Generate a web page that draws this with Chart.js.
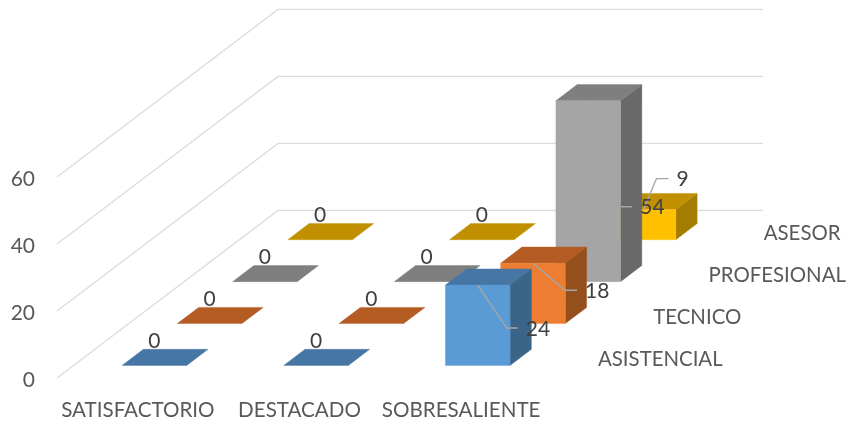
<!DOCTYPE html>
<html>
<head>
<meta charset="utf-8">
<style>html,body{margin:0;padding:0;background:#fff}canvas{display:block}</style>
<script src="https://cdn.jsdelivr.net/npm/chart.js@4"></script>
</head>
<body>
<canvas id="c" width="846" height="421" style="width:846px;height:421px"></canvas>
<script>
const categories = ["SATISFACTORIO", "DESTACADO", "SOBRESALIENTE"];
const depthLabels = ["ASISTENCIAL", "TECNICO", "PROFESIONAL", "ASESOR"];
const asistencial = [0, 0, 24];
const tecnico = [0, 0, 18];
const profesional = [0, 0, 54];
const asesor = [0, 0, 9];
const yTicks = [0, 20, 40, 60];

const frontColors = ["#5b9bd5", "#ed7d31", "#a5a5a5", "#ffc000"];
const topColors = ["#4676a3", "#b45c23", "#7f7f7f", "#c09000"];
const sideColors = ["#3b6489", "#954f1c", "#696969", "#a37c00"];

const FONT = "Lato, 'Open Sans', sans-serif";
const DEPTH_DX = 55.25, DEPTH_DY = -41.9;   // one series row of depth on screen
const BAR_FRAC = 0.4;                       // bar width as share of a cell
const DEPTH_FRAC = 0.385;                   // bar depth as share of a row
const GRID = "#dcdcdc", LEADER = "#a6a6a6", VALUE_TEXT = "#404040", AXIS_TEXT = "#595959";
// leader elbow and end, relative to the top-front centre of the bar, per series
const leaders = [
  [[29, 43], [40, 43]],
  [[32, 27], [44, 27]],
  [[32, 106], [44, 106]],
  [[13, -31], [25, -31]]
];

function poly(ctx, pts, fill) {
  ctx.beginPath();
  pts.forEach((p, i) => i ? ctx.lineTo(p[0], p[1]) : ctx.moveTo(p[0], p[1]));
  ctx.closePath();
  ctx.fillStyle = fill;
  ctx.fill();
  ctx.strokeStyle = fill;
  ctx.lineWidth = 0.4;
  ctx.stroke();
}

const scene3d = {
  id: "scene3d",
  beforeDraw(chart) {
    // the axis font sits a little high on its baseline: nudge the native tick labels down
    chart.scales.y.getLabelItems().forEach(it => { it.options.translation[1] += 2; });
  },
  beforeDatasetDraw() { return false; },
  afterDatasetsDraw(chart) {
    const ctx = chart.ctx, xs = chart.scales.x, ys = chart.scales.y;
    const rows = chart.data.datasets.length;
    const step = xs.width / categories.length;
    const base = ys.getPixelForValue(0);
    const w = step * BAR_FRAC;

    ctx.save();
    // walls
    ctx.strokeStyle = GRID;
    ctx.lineWidth = 1.3;
    yTicks.forEach(t => {
      const y = ys.getPixelForValue(t);
      ctx.beginPath();
      ctx.moveTo(xs.left, y);
      ctx.lineTo(xs.left + DEPTH_DX * rows, y + DEPTH_DY * rows);
      ctx.lineTo(xs.right + DEPTH_DX * rows, y + DEPTH_DY * rows);
      ctx.stroke();
    });

    // boxes, back row first
    const labels = [];
    for (let r = rows - 1; r >= 0; r--) {
      const ds = chart.data.datasets[r];
      const ox = (r + 0.3) * DEPTH_DX, oy = (r + 0.3) * DEPTH_DY;
      const sx = DEPTH_FRAC * DEPTH_DX, sy = DEPTH_FRAC * DEPTH_DY;
      ds.data.forEach((v, i) => {
        const cx = xs.getPixelForValue(i) + ox;
        const l = cx - w / 2, rr = cx + w / 2;
        const b = base + oy;
        const t = ys.getPixelForValue(v) + oy;
        if (v > 0) {
          poly(ctx, [[rr, b], [rr + sx, b + sy], [rr + sx, t + sy], [rr, t]], sideColors[r]);
        }
        poly(ctx, [[l, t], [rr, t], [rr + sx, t + sy], [l + sx, t + sy]], topColors[r]);
        if (v > 0) {
          poly(ctx, [[l, b], [rr, b], [rr, t], [l, t]], frontColors[r]);
        }
        labels.push({ r, v, cx, t, sy });
      });
    }

    // leaders then value labels
    ctx.font = "21px " + FONT;
    ctx.textBaseline = "middle";
    labels.forEach(o => {
      if (o.v > 0) {
        const L = leaders[o.r];
        ctx.strokeStyle = LEADER;
        ctx.lineWidth = 1.4;
        ctx.beginPath();
        ctx.moveTo(o.cx, o.t);
        ctx.lineTo(o.cx + L[0][0], o.t + L[0][1]);
        ctx.lineTo(o.cx + L[1][0], o.t + L[1][1]);
        ctx.stroke();
      }
    });
    ctx.fillStyle = VALUE_TEXT;
    labels.forEach(o => {
      if (o.v > 0) {
        const L = leaders[o.r];
        ctx.textAlign = "left";
        ctx.fillText(String(o.v), o.cx + L[1][0] + 8, o.t + L[1][1] + 1);
      } else {
        ctx.textAlign = "center";
        ctx.fillText(String(o.v), o.cx, o.t + o.sy - 8);
      }
    });

    // depth axis labels
    ctx.fillStyle = AXIS_TEXT;
    ctx.font = "20.4px " + FONT;
    ctx.textAlign = "left";
    depthLabels.forEach((s, r) => {
      ctx.fillText(s, xs.right + 56 + r * DEPTH_DX, base - 19 + r * DEPTH_DY);
    });
    ctx.restore();
  }
};

new Chart(document.getElementById("c"), {
  type: "bar",
  data: {
    labels: categories,
    datasets: [
      { label: depthLabels[0], data: asistencial, backgroundColor: frontColors[0] },
      { label: depthLabels[1], data: tecnico, backgroundColor: frontColors[1] },
      { label: depthLabels[2], data: profesional, backgroundColor: frontColors[2] },
      { label: depthLabels[3], data: asesor, backgroundColor: frontColors[3] }
    ]
  },
  options: {
    responsive: false,
    animation: false,
    layout: { padding: { top: 177, right: 304, left: 0, bottom: 0 } },
    plugins: { legend: { display: false }, tooltip: { enabled: false } },
    scales: {
      x: {
        grid: { display: false, drawTicks: false },
        border: { display: false },
        afterFit(s) { s.height = 43; },
        ticks: { maxRotation: 0, autoSkip: false, padding: 20, color: AXIS_TEXT, font: { family: FONT, size: 20.6 } }
      },
      y: {
        min: 0, max: 60,
        grid: { display: false, drawTicks: false },
        border: { display: false },
        afterFit(s) { s.width = 57; },
        afterBuildTicks(s) { s.ticks = yTicks.map(v => ({ value: v })); },
        ticks: { padding: 22, color: AXIS_TEXT, font: { family: FONT, size: 21 } }
      }
    }
  },
  plugins: [scene3d]
});
</script>
</body>
</html>
